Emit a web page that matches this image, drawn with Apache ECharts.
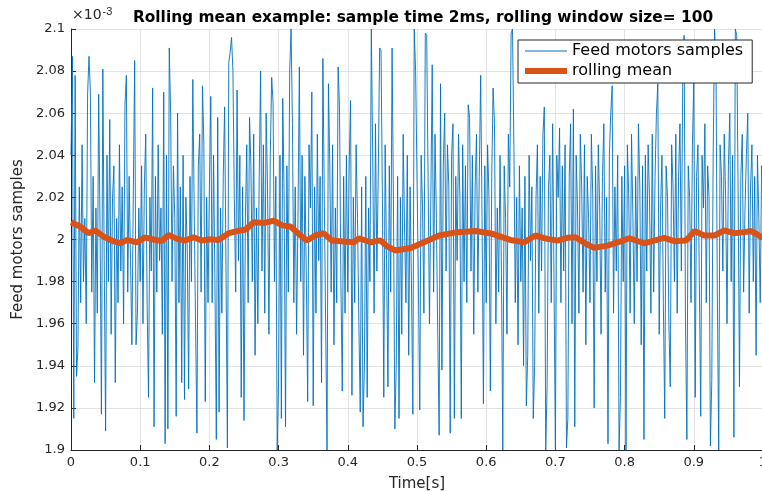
<!DOCTYPE html>
<html>
<head>
<meta charset="utf-8">
<title>Rolling mean</title>
<script src="https://cdn.jsdelivr.net/npm/echarts@6/dist/echarts.min.js"></script>
<style>
  html, body { margin: 0; padding: 0; background: #fff; }
  #chart { width: 762px; height: 491px; }
</style>
</head>
<body>
<div id="chart"></div>
<script>
// sample period (s), from the title: 2ms
var sampleTime = 0.002;

// samples: offset from 2 (x10^-3) in thousandths, one row per 0.1 s
var sampleDev = [
  40, 87, -85, 78, -65, -52, 25, -30, 45, -20, 10, -40, 69, 87, 70, -25, 30, -68, 15, -35, 69, 5, -83, 81, -10, -91, 40, -20, 57, -45, 20, 35, -68, 10, -30, 45, -15, 25, -40, 64, 78, -25, 30, -10, -50, 20, 85, -50, -35, 15,
  -20, 35, -40, 25, 50, -30, -75, 20, -15, 72, -89, 30, -25, 45, -10, 15, -45, 70, -97, 40, -90, 91, 60, -20, 35, 10, -84, 60, -30, 25, -68, 40, -76, 20, -5, -71, 30, -20, 76, 15, -40, -92, 35, 50, -25, 73, 45, -77, 20, -30,
  25, 68, -30, 40, -20, -95, 58, -82, 15, -35, 30, 63, -15, -99, 84, 89, 96, 80, 20, -25, 71, -10, 40, -75, 25, -86, 10, 45, -30, 58, 35, -20, 50, -55, 15, -40, 30, 80, -15, 45, -35, 60, 25, -45, 40, 77, 65, -20, 30, -100,
  -67, 40, -85, 67, 20, -89, 35, -25, 80, 100, 55, -30, 25, -45, 10, 82, -20, 40, -55, 30, -15, -77, 45, 15, 70, -79, 25, -35, 50, -10, 30, -68, 86, 20, -40, -100, 74, 35, -25, 45, -50, 15, -30, 82, 63, -20, -72, 30, -35, 40,
  -25, 35, 66, -74, 20, -30, 45, 10, -40, -82, 25, -89, -60, 30, -75, 15, -20, 100, 40, -35, 55, -15, 30, 91, 90, 20, -75, 45, -10, -70, 35, -25, 91, 15, -90, -60, 30, -85, 20, -45, 50, 5, -30, 40, -55, 25, -20, -83, 100, 80,
  80, -20, -81, 40, 15, -35, 98, 97, 30, -40, 20, 83, -25, 50, 10, -45, -93, 74, -62, 35, 60, -15, 45, 25, -92, 40, 55, -85, 30, -10, 50, 20, -85, 45, -20, 35, -30, 64, 58, -15, 40, -45, 25, 50, -25, 30, 78, 10, -78, 35,
  -30, 45, 20, -72, 30, 72, 55, -40, 15, -25, 40, -15, -100, 35, 10, -45, 50, 25, 98, 100, 45, -30, 20, -50, 35, -20, 15, -60, 30, -79, -55, 40, -10, 25, -85, -60, 20, 45, -35, 30, -15, 50, 63, -100, -70, 25, 40, -30, 55, -20,
  -100, 40, 20, 53, -30, 35, -15, 45, -99, -85, 30, 55, -40, 62, -89, 40, 15, -35, 50, 25, -25, 45, -50, 30, 10, -30, 50, 20, -80, 35, -20, 45, 15, -45, 30, 55, -25, 20, -97, 40, 60, 73, -35, 25, -15, 40, -100, -75, 30, -20,
  35, -100, 45, 20, -35, 50, 10, -40, 30, -20, 55, 25, -50, 35, -95, 40, -15, 45, 20, -35, 50, -25, 30, 60, 74, -45, 15, 40, -30, -85, 35, 20, -40, -70, 45, 25, -20, 50, -35, 30, 55, -15, 75, 97, -40, -95, 35, 20, -30, 45,
  75, -75, 30, 45, -20, -84, 40, 15, 55, -30, 35, 20, -98, -67, 40, 100, 85, -25, -100, 45, 30, -15, 50, 20, -40, 35, 60, -20, 40, -94, 100, 97, 25, -70, 30, 50, -25, 15, 40, 60, -35, 25, 45, -20, 30, -55, 40, 10, -30, 35,
  20
];

// rolling mean (x10^-3)
var meanTime = [0, 0.013, 0.025, 0.035, 0.047, 0.059, 0.071, 0.081, 0.095, 0.107, 0.119, 0.131, 0.141, 0.153, 0.165, 0.177, 0.189, 0.201, 0.213, 0.228, 0.240, 0.252, 0.264, 0.278, 0.293, 0.305, 0.317, 0.329, 0.341, 0.353, 0.365, 0.377, 0.394, 0.409, 0.416, 0.433, 0.447, 0.457, 0.469, 0.491, 0.510, 0.532, 0.558, 0.585, 0.609, 0.635, 0.655, 0.671, 0.688, 0.703, 0.717, 0.729, 0.744, 0.756, 0.775, 0.795, 0.807, 0.828, 0.843, 0.857, 0.872, 0.889, 0.901, 0.915, 0.930, 0.944, 0.958, 0.973, 0.983, 1.0];
var meanValue = [2.0082, 2.0062, 2.0030, 2.0043, 2.0014, 1.9995, 1.9982, 1.9998, 1.9986, 2.0010, 2.0000, 1.9992, 2.0022, 2.0003, 1.9995, 2.0011, 1.9995, 2.0001, 1.9998, 2.0030, 2.0040, 2.0046, 2.0082, 2.0078, 2.0090, 2.0067, 2.0062, 2.0027, 1.9995, 2.0019, 2.0030, 1.9995, 1.9990, 1.9987, 2.0006, 1.9987, 1.9996, 1.9967, 1.9948, 1.9960, 1.9987, 2.0019, 2.0035, 2.0040, 2.0027, 1.9998, 1.9987, 2.0019, 2.0003, 1.9995, 2.0008, 2.0011, 1.9980, 1.9960, 1.9971, 1.9992, 2.0006, 1.9982, 1.9995, 2.0008, 1.9992, 1.9995, 2.0040, 2.0019, 2.0019, 2.0043, 2.0030, 2.0035, 2.0040, 2.0008];

var titleText = 'Rolling mean example: sample time 2ms, rolling window size= 100';
var sampleName = 'Feed motors samples';
var meanName = 'rolling mean';

var sampleData = sampleDev.map(function(d, i) {
  return [i * sampleTime, 2 + d / 1000];
});
var meanData = meanTime.map(function(t, i) {
  return [t, meanValue[i]];
});

var ink = '#262626';
var font = 'DejaVu Sans';
var blue = '#0072BD';
var orange = '#D95319';

var chart = echarts.init(document.getElementById('chart'), null, { renderer: 'canvas' });
chart.setOption({
  animation: false,
  backgroundColor: '#fff',
  textStyle: { fontFamily: font },
  title: {
    text: titleText,
    left: 418,
    top: 5,
    textAlign: 'center',
    textStyle: { fontFamily: font, fontSize: 15.4, fontWeight: 'bold', color: '#000' }
  },
  graphic: [{
    type: 'text',
    left: 72,
    top: 6,
    style: {
      text: '×10{s|-3}',
      rich: { s: { fontSize: 11, verticalAlign: 'top', padding: [0, 0, 7, 1], fill: ink } },
      fontFamily: font,
      fontSize: 14,
      fill: ink
    }
  }],
  legend: {
    orient: 'vertical',
    left: 518,
    top: 40,
    padding: [3, 9, 4, 4],
    itemGap: 4,
    itemWidth: 42,
    itemHeight: 16,
    backgroundColor: '#fff',
    borderColor: ink,
    borderWidth: 1,
    borderRadius: 0,
    itemStyle: { opacity: 0 },
    textStyle: { fontFamily: font, fontSize: 16, color: '#000' },
    data: [
      { name: sampleName, lineStyle: { color: blue, width: 1 } },
      { name: meanName, lineStyle: { color: orange, width: 6 } }
    ]
  },
  grid: { left: 71, top: 29, right: -1, bottom: 41, containLabel: false, outerBoundsMode: 'none' },
  xAxis: {
    type: 'value',
    min: 0,
    max: 1,
    interval: 0.1,
    name: 'Time[s]',
    nameLocation: 'middle',
    nameGap: 27,
    nameTextStyle: { fontFamily: font, fontSize: 15, color: ink },
    axisLine: { onZero: false, lineStyle: { color: ink, width: 1 } },
    axisTick: { inside: true, length: 5, lineStyle: { color: ink } },
    axisLabel: {
      margin: 6,
      fontSize: 13,
      color: ink,
      showMaxLabel: true,
      formatter: function(v) { return String(+v.toFixed(1)); }
    },
    splitLine: { show: true, lineStyle: { color: '#e3e3e3', width: 1 } }
  },
  yAxis: {
    type: 'value',
    min: 1.9,
    max: 2.1,
    interval: 0.02,
    name: 'Feed motors samples',
    nameLocation: 'middle',
    nameGap: 43,
    nameTextStyle: { fontFamily: font, fontSize: 15, color: ink },
    axisLine: { show: true, onZero: false, lineStyle: { color: ink, width: 1 } },
    axisTick: { show: true, inside: true, length: 5, lineStyle: { color: ink } },
    axisLabel: {
      margin: 6,
      fontSize: 13,
      color: ink,
      formatter: function(v) { return String(+v.toFixed(2)); }
    },
    splitLine: { show: true, lineStyle: { color: '#e3e3e3', width: 1 } }
  },
  series: [{
    name: sampleName,
    type: 'line',
    data: sampleData,
    showSymbol: false,
    symbol: 'none',
    clip: true,
    lineStyle: { color: blue, width: 0.9 },
    itemStyle: { color: blue },
    z: 2
  }, {
    name: meanName,
    type: 'line',
    data: meanData,
    showSymbol: false,
    symbol: 'none',
    clip: true,
    lineStyle: { color: orange, width: 6 },
    itemStyle: { color: orange },
    z: 3
  }]
});
</script>
</body>
</html>
